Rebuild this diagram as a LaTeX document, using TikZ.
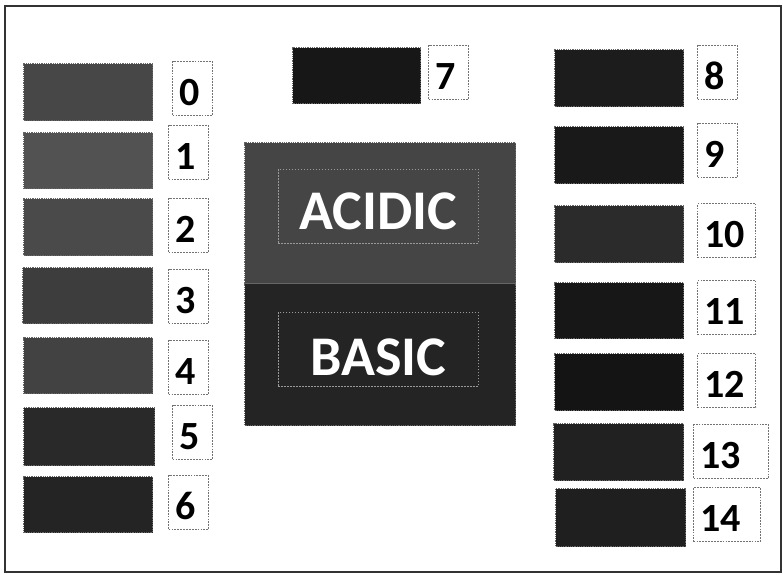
\documentclass[tikz,border=0pt]{standalone}
\usepackage{fontspec}
\setmainfont{Carlito}
\newcommand{\numlabel}[1]{{\fontsize{40}{42}\selectfont\bfseries #1}}
\newcommand{\blocklabel}[1]{\textcolor{white}{\fontsize{56}{60}\selectfont\bfseries #1}}

\begin{document}
\begin{tikzpicture}[x=1pt,y=-1pt,
  swatch/.style={draw=black!60,line width=1.3pt,dash pattern=on 1pt off 0.8pt,inner sep=0pt,anchor=north west},
  numbox/.style={draw=black!55,line width=1.3pt,dash pattern=on 1.8pt off 1.1pt,fill=white,inner xsep=6.5pt,inner ysep=0pt,text height=44pt,text depth=10pt,align=left,anchor=north west},
  tagbox/.style={draw=black!40,line width=0.7pt,dash pattern=on 1.5pt off 1.5pt,inner sep=0pt,minimum width=200pt,anchor=north west}]
\useasboundingbox (0,0) rectangle (783,574);
\draw[line width=2pt,black!80] (5,6) rectangle (781,572);
% colour swatches
\foreach \n/\x/\y/\w/\h/\g in {0/23/63/129/57/72,1/23/132/129/56/68,2/23/198/129/57/71,3/22/267/130/56/76,4/23/337/129/56/74,5/23/407/131/58/84,6/23/476/129/56/86,7/292/47/128/56/91,8/554/49/129/57/89,9/554/126/129/57/90,10/554/205/129/57/83,11/554/282/129/56/91,12/554/353/129/57/92,13/553/423/130/57/87,14/555/488/130/58/88}{
  \node[swatch,fill=black!\g,minimum width=\w pt,minimum height=\h pt] (sw\n) at (\x,\y) {};}
% number tags
\foreach \n/\x/\y/\w in {0/172/61/40,1/168/125/40,2/168/198/40,3/168/269/40,4/168/340/40,5/172/405/40,6/168/475/40,7/428/45/40,8/697/45/40,9/697/123/40,10/697/203/58,11/697/280/58,12/697/353/58,13/693/424/75,14/693/487/67}{
  \pgfmathsetmacro\tw{\w-13}
  \node[numbox,text width=\tw pt] (lb\n) at (\x,\y) {\numlabel{\n}};}
% acidic / basic block
\node[swatch,fill=black!73,minimum width=271pt,minimum height=141pt] (acid) at (244,142) {};
\node[swatch,fill=black!86,minimum width=271pt,minimum height=142pt] (base) at (244,283) {};
\node[tagbox,text height=60pt,text depth=14pt] (acidtag) at (278,169) {\blocklabel{ACIDIC}};
\node[tagbox,text height=63pt,text depth=11pt] (basetag) at (278,312) {\blocklabel{BASIC}};
\end{tikzpicture}
\end{document}
